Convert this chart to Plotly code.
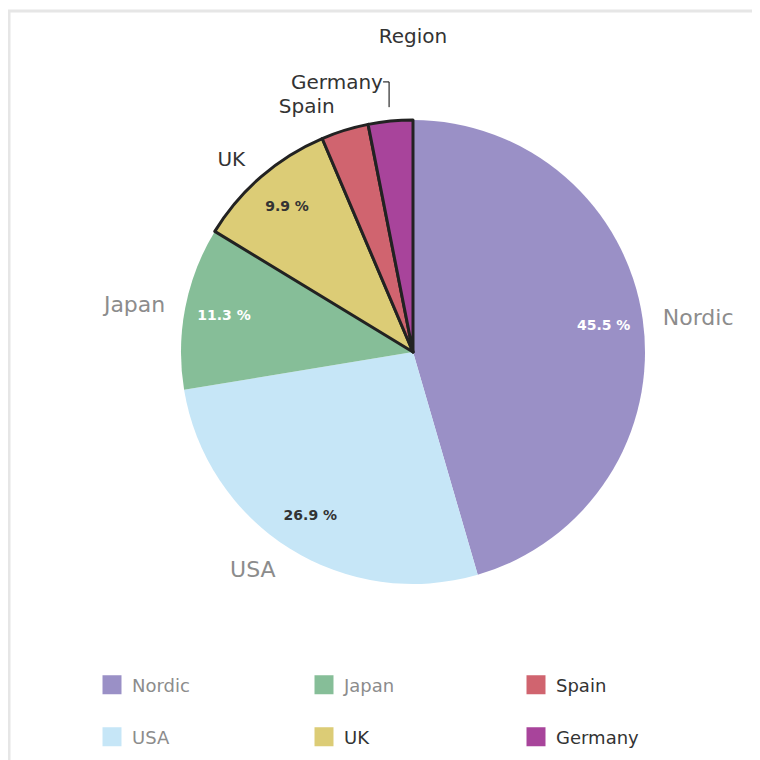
import plotly.graph_objects as go

regions = ["Nordic", "USA", "Japan", "UK", "Spain", "Germany"]
shares = [45.5, 26.9, 11.3, 9.9, 3.3, 3.1]
colors = ["#9a90c6", "#c6e6f7", "#86be98", "#dccc76", "#d0646f", "#a8449b"]
selected = [False, False, False, True, True, True]
show_pct = [True, True, True, True, False, False]
pct_colors = ["#ffffff", "#333333", "#ffffff", "#333333", "#333333", "#333333"]
legend_rows = [["Nordic", "Japan", "Spain"], ["USA", "UK", "Germany"]]

GREY = "#8c8c8c"
DARK = "#333333"
FONT = "DejaVu Sans, sans-serif"

total = sum(shares)
pct_text = [f"{v / total * 100:.1f} %" if s else "" for v, s in zip(shares, show_pct)]
label_colors = [DARK if s else GREY for s in selected]
label_sizes = [20 if s else 22 for s in selected]

# page body has an 8px margin, so the figure is 752 wide/high and offsets are -8
W = 752
OFF = 8
cx, cy, r = 413 - OFF, 352 - OFF, 232
r_lab = r + 14


def dom(rad):
    return dict(x=[(cx - rad) / W, (cx + rad) / W],
                y=[1 - (cy + rad) / W, 1 - (cy - rad) / W])


common = dict(labels=regions, values=shares, sort=False, direction="clockwise",
              rotation=0, automargin=False, showlegend=False)

fig = go.Figure()

fig.add_trace(go.Pie(
    domain=dom(r),
    marker=dict(colors=colors,
                line=dict(color=["#222222" if s else "rgba(0,0,0,0)" for s in selected],
                          width=[3 if s else 0 for s in selected])),
    textinfo="none", hoverinfo="label+percent", **common,
))

fig.add_trace(go.Pie(
    domain=dom(r), hole=0.66,
    marker=dict(colors=["rgba(0,0,0,0)"] * len(regions), line=dict(width=0)),
    text=pct_text, textinfo="text", textposition="inside",
    insidetextorientation="horizontal",
    textfont=dict(family=FONT, size=14, color=pct_colors, weight="bold"),
    hoverinfo="skip", **common,
))

fig.add_trace(go.Pie(
    domain=dom(r_lab),
    marker=dict(colors=["rgba(0,0,0,0)"] * len(regions), line=dict(width=0)),
    text=regions, textinfo="text", textposition="outside",
    textfont=dict(family=FONT, size=label_sizes, color=label_colors),
    outsidetextfont=dict(family=FONT, size=label_sizes, color=label_colors),
    hoverinfo="skip", **common,
))

for row_i, row in enumerate(legend_rows):
    lg = "legend" if row_i == 0 else "legend2"
    for name in row:
        i = regions.index(name)
        col = DARK if selected[i] else GREY
        fig.add_trace(go.Scatter(
            x=[None], y=[None], mode="markers",
            name=f"<span style='color:{col}'>{name}</span>",
            marker=dict(symbol="square", size=22, color=colors[i],
                        line=dict(color=colors[i], width=3)),
            legend=lg, hoverinfo="skip",
        ))

leg_common = dict(orientation="h", xanchor="left", x=(92 - OFF) / W, yanchor="middle",
                  entrywidth=167, entrywidthmode="pixels",
                  font=dict(family=FONT, size=18, color=GREY), bgcolor="rgba(0,0,0,0)")

fig.update_layout(
    width=W, height=W,
    margin=dict(l=0, r=0, t=0, b=0),
    paper_bgcolor="white", plot_bgcolor="white",
    title=dict(text="Region", x=cx / W, xanchor="center", y=1 - (36 - OFF) / W,
               yanchor="middle", font=dict(family=FONT, size=20, color=DARK)),
    xaxis=dict(visible=False), yaxis=dict(visible=False),
    legend=dict(y=1 - (685 - OFF) / W, **leg_common),
    legend2=dict(y=1 - (737 - OFF) / W, **leg_common),
    shapes=[
        dict(type="line", xref="paper", yref="paper", x0=0, x1=1,
             y0=1 - (11 - OFF) / W, y1=1 - (11 - OFF) / W,
             line=dict(color="#e6e6e6", width=3)),
        dict(type="line", xref="paper", yref="paper", x0=1 / W, x1=1 / W,
             y0=0, y1=1 - (10 - OFF) / W,
             line=dict(color="#e6e6e6", width=3)),
    ],
)

fig.write_html("out.html")
